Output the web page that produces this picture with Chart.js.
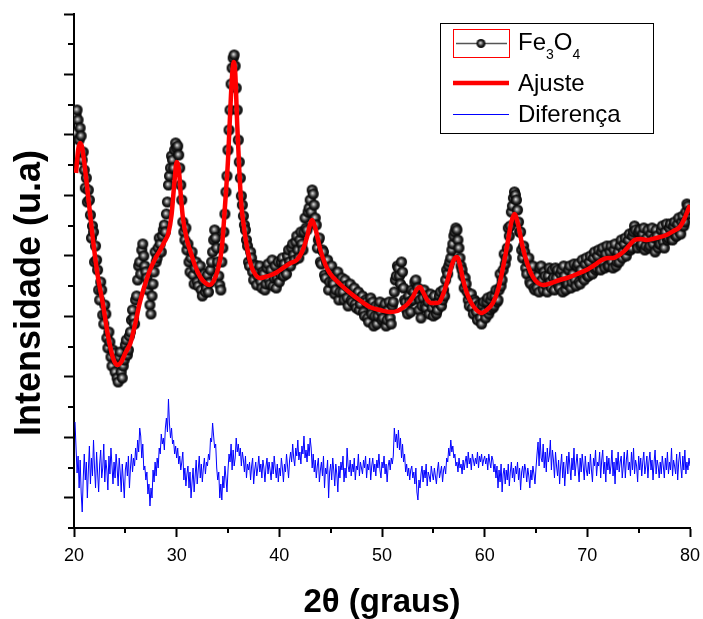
<!DOCTYPE html>
<html>
<head>
<meta charset="utf-8">
<script src="https://cdn.jsdelivr.net/npm/chart.js@4.4.0/dist/chart.umd.min.js"></script>
<style>
  html, body { margin: 0; padding: 0; background: #fff; }
  canvas { display: block; }
</style>
</head>
<body>
<canvas id="xrd" width="703" height="619"></canvas>
<script>
// Eixos
const xTicks = [20, 30, 40, 50, 60, 70, 80];
const xMinorTicks = [25, 35, 45, 55, 65, 75];
const yMax = 514;
const yDivisions = 17;

// Fe3O4 medido, 2θ de 20.1 a 80.0 com passo 0.1
const obsStart = 20.1, obsStep = 0.1;
const obsValues = [
  395, 413, 418, 408, 388, 400, 392, 368, 376, 358,
  340, 350, 326, 338, 328, 313, 290, 302, 296, 266,
  282, 268, 258, 238, 228, 246, 238, 213, 204, 223,
  214, 190, 180, 196, 186, 171, 162, 178, 175, 156,
  168, 150, 146, 171, 176, 156, 150, 162, 168, 183,
  188, 173, 178, 192, 196, 208, 218, 210, 204, 228,
  232, 248, 262, 266, 254, 278, 284, 272, 262, 256,
  250, 238, 244, 223, 214, 232, 244, 256, 276, 266,
  270, 280, 290, 284, 276, 292, 298, 303, 296, 314,
  326, 343, 352, 360, 372, 368, 360, 378, 385, 380,
  382, 373, 360, 343, 328, 306, 296, 288, 300, 278,
  284, 266, 256, 270, 276, 253, 244, 260, 266, 246,
  242, 256, 262, 238, 232, 248, 254, 236, 240, 253,
  236, 245, 258, 266, 276, 288, 298, 290, 280, 266,
  252, 243, 238, 266, 280, 296, 314, 336, 352, 378,
  398, 418, 444, 460, 470, 473, 462, 440, 418, 388,
  366, 350, 332, 323, 312, 303, 298, 288, 282, 266,
  262, 276, 270, 256, 248, 263, 262, 243, 252, 258,
  262, 246, 240, 256, 254, 238, 244, 260, 264, 248,
  244, 258, 268, 242, 250, 262, 240, 250, 266, 246,
  254, 266, 270, 252, 264, 258, 254, 272, 278, 266,
  262, 280, 284, 273, 268, 286, 292, 278, 270, 288,
  296, 284, 278, 296, 310, 300, 298, 316, 320, 328,
  316, 338, 334, 323, 310, 303, 280, 288, 290, 266,
  264, 278, 276, 253, 250, 266, 268, 238, 246, 258,
  262, 246, 244, 234, 238, 252, 256, 228, 236, 246,
  250, 236, 228, 248, 242, 230, 222, 240, 244, 228,
  226, 236, 240, 224, 220, 232, 236, 218, 224, 230,
  232, 216, 212, 228, 226, 210, 206, 224, 230, 214,
  226, 202, 212, 222, 204, 212, 222, 226, 216, 208,
  210, 220, 224, 202, 208, 218, 226, 210, 204, 222,
  226, 236, 248, 252, 262, 260, 252, 244, 266, 256,
  240, 228, 226, 218, 214, 232, 226, 216, 238, 228,
  236, 246, 248, 232, 240, 218, 228, 210, 222, 230,
  238, 222, 220, 232, 226, 214, 234, 228, 220, 212,
  232, 224, 214, 218, 226, 232, 236, 222, 228, 238,
  232, 248, 258, 254, 262, 266, 270, 278, 284, 292,
  296, 300, 298, 288, 280, 270, 262, 258, 252, 240,
  250, 244, 236, 228, 222, 232, 234, 220, 214, 228,
  226, 216, 208, 223, 222, 210, 204, 222, 226, 216,
  210, 226, 230, 214, 218, 228, 232, 220, 222, 232,
  238, 226, 228, 238, 254, 242, 248, 258, 274, 264,
  270, 280, 300, 292, 302, 316, 322, 330, 336, 333,
  328, 318, 306, 296, 296, 278, 270, 282, 276, 260,
  254, 266, 270, 246, 244, 256, 262, 240, 238, 250,
  240, 252, 236, 260, 262, 248, 238, 256, 252, 242,
  236, 252, 260, 246, 240, 258, 250, 238, 260, 250,
  258, 242, 240, 254, 258, 236, 262, 252, 238, 244,
  244, 258, 262, 240, 246, 254, 264, 248, 242, 262,
  264, 246, 244, 258, 268, 250, 248, 264, 270, 252,
  252, 266, 272, 256, 254, 270, 276, 258, 260, 272,
  278, 262, 258, 276, 280, 264, 260, 274, 282, 262,
  262, 276, 282, 266, 260, 278, 284, 262, 266, 276,
  266, 282, 288, 270, 276, 284, 290, 272, 278, 288,
  294, 278, 280, 292, 296, 302, 298, 284, 280, 296,
  298, 282, 284, 294, 300, 278, 282, 290, 298, 280,
  282, 294, 300, 284, 290, 276, 298, 292, 280, 284,
  284, 298, 302, 286, 280, 296, 304, 288, 290, 300,
  304, 290, 288, 302, 306, 292, 292, 304, 310, 296,
  294, 306, 312, 302, 306, 316, 324, 322, 314, 318
];

// Ajuste
const fitTheta = [
  20.2, 20.4, 20.6, 20.8, 21.2, 21.85, 22.3, 22.8, 23.3, 23.8,
  24.2, 24.6, 25.0, 25.5, 26.0, 26.4, 26.9, 27.4, 27.9, 28.4,
  28.8, 29.2, 29.5, 29.8, 30.0, 30.2, 30.4, 30.6, 31.0, 31.3,
  31.8, 32.3, 32.8, 33.2, 33.6, 34.0, 34.4, 34.7, 35.0, 35.2,
  35.4, 35.55, 35.7, 35.9, 36.1, 36.3, 36.5, 36.9, 37.3, 37.7,
  38.1, 38.6, 39.2, 39.8, 40.5, 41.1, 41.7, 42.2, 42.7, 43.0,
  43.2, 43.5, 44.0, 44.5, 44.9, 45.9, 46.9, 47.8, 48.8, 49.8,
  50.8, 51.5, 52.0, 52.5, 53.0, 53.4, 53.7, 54.0, 54.4, 54.8,
  55.3, 55.6, 56.0, 56.4, 56.8, 57.1, 57.3, 57.6, 57.9, 58.3,
  58.7, 59.2, 59.7, 60.2, 60.8, 61.3, 61.8, 62.2, 62.6, 62.9,
  63.2, 63.7, 64.2, 64.7, 65.2, 65.7, 66.5, 67.3, 68.0, 69.0,
  69.9, 70.7, 71.4, 72.0, 72.5, 73.1, 73.7, 74.2, 74.6, 75.2,
  75.8, 76.7, 77.7, 78.4, 79.0, 79.4, 79.8, 80.0
];
const fitValues = [
  355, 378, 385, 380, 348, 288, 253, 225, 193, 170,
  163, 166, 175, 185, 206, 225, 243, 258, 269, 278,
  286, 295, 313, 348, 366, 360, 333, 311, 288, 278,
  262, 251, 245, 243, 247, 258, 280, 321, 368, 413,
  453, 466, 456, 403, 358, 323, 305, 278, 261, 253,
  250, 251, 253, 256, 261, 265, 268, 276, 291, 304,
  308, 300, 278, 263, 255, 244, 235, 228, 221, 218,
  216, 217, 220, 224, 231, 239, 241, 236, 228, 225,
  225, 226, 235, 248, 263, 270, 271, 263, 248, 234,
  225, 218, 215, 218, 225, 238, 261, 283, 306, 314,
  306, 281, 263, 251, 245, 243, 245, 248, 250, 254,
  258, 263, 268, 270, 270, 273, 278, 284, 288, 289,
  288, 290, 293, 297, 301, 308, 318, 323
];

// Diferença, 2θ de 20.1 a 80.0 com passo 0.1
const diffStart = 20.1, diffStep = 0.1;
const diffValues = [
  106, 80, 55, 72, 40, 68, 35, 16, 50, 74,
  48, 66, 30, 58, 82, 44, 70, 52, 88, 60,
  40, 76, 55, 36, 64, 78, 50, 60, 84, 46,
  68, 58, 38, 72, 54, 80, 62, 44, 66, 50,
  74, 60, 42, 70, 56, 36, 64, 48, 30, 58,
  66, 52, 72, 40, 60, 74, 56, 70, 62, 80,
  68, 88, 76, 100, 92, 70, 84, 58, 62, 48,
  56, 34, 44, 22, 40, 30, 58, 46, 66, 52,
  70, 60, 80, 74, 94, 84, 90, 78, 100, 110,
  96, 129, 104, 90, 100, 84, 88, 74, 82, 70,
  80, 64, 72, 58, 66, 76, 48, 60, 42, 54,
  62, 40, 56, 30, 46, 60, 36, 52, 68, 44,
  58, 72, 50, 64, 46, 60, 70, 54, 66, 62,
  74, 68, 90, 86, 105, 92, 80, 84, 60, 48,
  56, 30, 44, 28, 52, 40, 62, 50, 36, 58,
  74, 66, 84, 58, 78, 62, 70, 90, 76, 84,
  72, 80, 62, 76, 68, 56, 72, 50, 64, 58,
  66, 48, 62, 70, 44, 58, 66, 52, 60, 72,
  56, 64, 50, 68, 60, 46, 62, 70, 54, 66,
  58, 48, 66, 54, 72, 60, 50, 64, 46, 60,
  52, 70, 60, 46, 64, 56, 74, 62, 50, 68,
  76, 66, 84, 70, 62, 80, 72, 88, 68, 76,
  64, 82, 74, 92, 70, 78, 66, 84, 72, 90,
  80, 60, 74, 56, 68, 50, 62, 70, 46, 58,
  66, 52, 72, 40, 60, 54, 68, 30, 56, 64,
  48, 70, 58, 42, 64, 54, 36, 62, 50, 66,
  58, 72, 46, 60, 50, 80, 62, 56, 68, 52,
  64, 56, 70, 48, 62, 58, 74, 52, 66, 60,
  54, 68, 60, 72, 50, 64, 58, 70, 48, 62,
  70, 56, 64, 52, 68, 60, 74, 58, 50, 66,
  60, 72, 54, 64, 46, 62, 68, 58, 70, 64,
  72, 100, 86, 94, 80, 98, 78, 90, 70, 84,
  66, 74, 56, 64, 52, 60, 48, 58, 62, 50,
  56, 44, 60, 36, 28, 48, 40, 54, 62, 46,
  58, 50, 64, 42, 56, 52, 46, 62, 54, 48,
  60, 52, 44, 58, 66, 50, 56, 62, 46, 58,
  62, 54, 70, 66, 80, 72, 88, 76, 82, 70,
  74, 62, 66, 56, 70, 60, 64, 54, 68, 58,
  66, 72, 60, 76, 64, 70, 58, 74, 68, 62,
  70, 64, 76, 60, 72, 66, 74, 62, 68, 72,
  64, 70, 58, 74, 66, 60, 72, 68, 56, 64,
  50, 62, 40, 58, 46, 64, 36, 54, 60, 44,
  58, 48, 64, 42, 56, 66, 50, 60, 46, 62,
  54, 66, 48, 60, 38, 56, 62, 50, 64, 58,
  46, 60, 52, 40, 58, 48, 62, 54, 44, 60,
  74, 86, 62, 90, 70, 66, 84, 60, 76, 56,
  80, 66, 72, 88, 58, 78, 68, 50, 76, 62,
  52, 68, 44, 62, 74, 50, 66, 42, 60, 72,
  54, 76, 62, 48, 70, 58, 80, 52, 64, 74,
  60, 46, 70, 56, 74, 62, 48, 72, 58, 52,
  66, 54, 74, 58, 46, 70, 62, 78, 52, 66,
  62, 76, 50, 68, 78, 54, 66, 46, 72, 58,
  70, 54, 62, 78, 52, 66, 44, 70, 58, 76,
  56, 66, 72, 50, 62, 76, 50, 68, 78, 58,
  66, 52, 76, 58, 80, 54, 68, 62, 46, 72,
  58, 70, 52, 66, 76, 54, 62, 72, 50, 66,
  76, 58, 68, 48, 66, 78, 54, 68, 62, 50,
  66, 54, 72, 62, 50, 70, 58, 76, 54, 66,
  58, 80, 52, 68, 62, 54, 74, 48, 66, 76,
  62, 50, 72, 58, 78, 54, 66, 58, 70, 62
];

const FONT = "'Liberation Sans', Arial, sans-serif";

// bolinha preta com brilho, usada como marcador
function makeSphere(r) {
    const c = document.createElement('canvas');
    const s = Math.ceil(r * 2) + 2;
    c.width = s;
    c.height = s;
    const g = c.getContext('2d');
    const cx = s / 2, cy = s / 2;
    const grad = g.createRadialGradient(cx - r * 0.15, cy - r * 0.15, 0, cx, cy, r);
    grad.addColorStop(0, '#f2f2f2');
    grad.addColorStop(0.28, '#8c8c8c');
    grad.addColorStop(0.62, '#242424');
    grad.addColorStop(1, '#000');
    g.fillStyle = grad;
    g.beginPath();
    g.arc(cx, cy, r, 0, Math.PI * 2);
    g.fill();
    return c;
}
const sphere = makeSphere(5.5);
const sphereSmall = makeSphere(4.5);

const obsPoints = obsValues.map((v, i) => ({ x: +(obsStart + i * obsStep).toFixed(2), y: v }));
const fitPoints = fitValues.map((v, i) => ({ x: fitTheta[i], y: v }));
const diffPoints = diffValues.map((v, i) => ({ x: +(diffStart + i * diffStep).toFixed(2), y: v }));

// ticks menores, titulo do eixo y e legenda
const extras = {
    id: 'extras',
    afterDraw(chart) {
        const ctx = chart.ctx;
        const xs = chart.scales.x, ys = chart.scales.y;
        const area = chart.chartArea;

        ctx.save();
        ctx.strokeStyle = '#000';
        ctx.lineWidth = 2;
        ctx.beginPath();
        xMinorTicks.forEach(v => {
            const px = Math.round(xs.getPixelForValue(v));
            ctx.moveTo(px, area.bottom);
            ctx.lineTo(px, area.bottom + 5);
        });
        for (let k = 0; k <= yDivisions; k += 2) {
            const py = Math.round(ys.getPixelForValue(k * yMax / yDivisions));
            ctx.moveTo(area.left, py);
            ctx.lineTo(area.left - 6, py);
        }
        ctx.stroke();
        ctx.restore();

        ctx.save();
        ctx.translate(30, 293);
        ctx.rotate(-Math.PI / 2);
        ctx.font = 'bold 36px ' + FONT;
        ctx.fillStyle = '#000';
        ctx.textAlign = 'center';
        ctx.textBaseline = 'middle';
        ctx.fillText('Intensidade (u.a)', 0, 0);
        ctx.restore();

        // legenda
        ctx.save();
        ctx.lineWidth = 1;
        ctx.strokeStyle = '#000';
        ctx.strokeRect(440.5, 23.5, 213, 110);

        ctx.strokeStyle = '#ff0000';
        ctx.strokeRect(453.5, 29.5, 56, 28);
        ctx.strokeStyle = '#555';
        ctx.lineWidth = 1.5;
        ctx.beginPath();
        ctx.moveTo(456, 43.5);
        ctx.lineTo(507, 43.5);
        ctx.stroke();
        ctx.drawImage(sphereSmall, 481 - sphereSmall.width / 2, 43.5 - sphereSmall.height / 2);

        ctx.strokeStyle = '#ff0000';
        ctx.lineWidth = 4.5;
        ctx.beginPath();
        ctx.moveTo(453, 83);
        ctx.lineTo(509, 83);
        ctx.stroke();

        ctx.strokeStyle = '#0000ff';
        ctx.lineWidth = 1;
        ctx.beginPath();
        ctx.moveTo(453, 114.5);
        ctx.lineTo(509, 114.5);
        ctx.stroke();

        ctx.fillStyle = '#000';
        ctx.textAlign = 'left';
        ctx.textBaseline = 'alphabetic';
        let tx = 518;
        ctx.font = '24px ' + FONT;
        ctx.fillText('Fe', tx, 50);
        tx += ctx.measureText('Fe').width;
        ctx.font = '14px ' + FONT;
        ctx.fillText('3', tx, 59);
        tx += ctx.measureText('3').width;
        ctx.font = '24px ' + FONT;
        ctx.fillText('O', tx, 50);
        tx += ctx.measureText('O').width;
        ctx.font = '14px ' + FONT;
        ctx.fillText('4', tx, 59);

        ctx.font = '24px ' + FONT;
        ctx.fillText('Ajuste', 518, 91);
        ctx.fillText('Diferença', 518, 122);
        ctx.restore();
    }
};

new Chart(document.getElementById('xrd').getContext('2d'), {
    type: 'line',
    data: {
        datasets: [
            {
                label: 'Ajuste',
                data: fitPoints,
                borderColor: '#ff0000',
                borderWidth: 4.5,
                pointRadius: 0,
                cubicInterpolationMode: 'monotone',
                order: 0
            },
            {
                label: 'Fe3O4',
                data: obsPoints,
                showLine: false,
                pointStyle: sphere,
                pointRadius: 5.5,
                order: 1
            },
            {
                label: 'Diferença',
                data: diffPoints,
                borderColor: '#0000ff',
                borderWidth: 1,
                pointRadius: 0,
                tension: 0,
                order: 2
            }
        ]
    },
    options: {
        responsive: false,
        animation: false,
        devicePixelRatio: 1,
        layout: { padding: { top: 14, right: 13, left: 0, bottom: 0 } },
        plugins: {
            legend: { display: false },
            tooltip: { enabled: false }
        },
        scales: {
            x: {
                type: 'linear',
                position: 'bottom',
                min: xTicks[0],
                max: xTicks[xTicks.length - 1],
                afterBuildTicks: s => { s.ticks = xTicks.map(v => ({ value: v })); },
                afterFit: s => {
                    s.height = 91;
                    s.paddingLeft = 0;
                    s.paddingRight = 0;
                },
                ticks: {
                    color: '#000',
                    font: { family: FONT, size: 18 },
                    padding: 8
                },
                grid: {
                    drawOnChartArea: false,
                    tickLength: 9,
                    tickWidth: 2,
                    tickColor: '#000'
                },
                border: { color: '#000', width: 2 },
                title: {
                    display: true,
                    text: '2θ (graus)',
                    color: '#000',
                    font: { family: FONT, size: 33, weight: 'bold', lineHeight: 1 },
                    padding: { top: 0, bottom: 0 }
                }
            },
            y: {
                type: 'linear',
                min: 0,
                max: yMax,
                afterBuildTicks: s => {
                    const t = [];
                    for (let k = 1; k <= yDivisions; k += 2) t.push({ value: k * yMax / yDivisions });
                    s.ticks = t;
                },
                afterFit: s => { s.width = 74; },
                ticks: { display: false },
                grid: {
                    drawOnChartArea: false,
                    tickLength: 10,
                    tickWidth: 2,
                    tickColor: '#000'
                },
                border: { color: '#000', width: 2 }
            }
        }
    },
    plugins: [extras]
});
</script>
</body>
</html>
